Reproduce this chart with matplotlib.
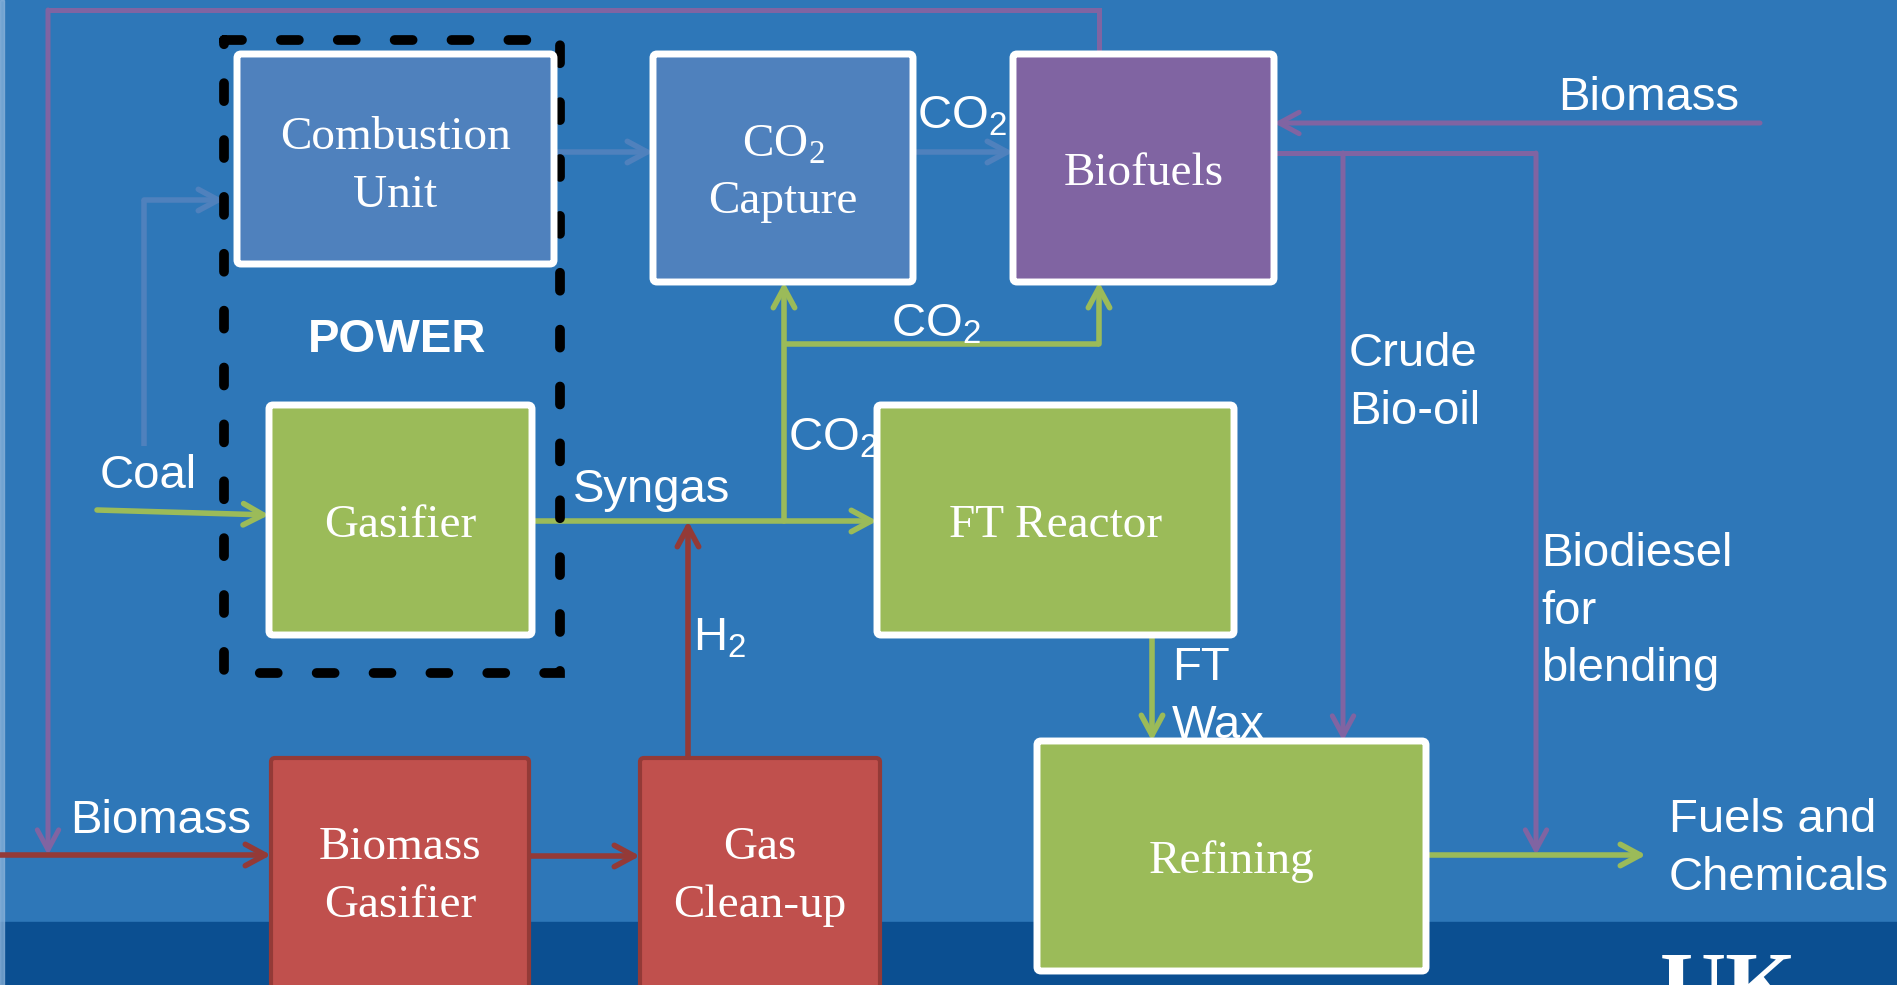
"""Coal/biomass to fuels flow diagram (boxes + arrows on a blue slide)."""
import matplotlib.pyplot as plt
import matplotlib as mpl
from matplotlib.patches import FancyBboxPatch, Rectangle, FancyArrowPatch

mpl.rcParams.update({"font.size": 34})

BG = "#2E77B8"
BAND = "#0B4F91"
BLUE = "#4F81BD"
PURPLE = "#8064A2"
GREEN = "#9BBB59"
RED = "#C0504D"
RED_LINE = "#943A37"
SERIF = "Liberation Serif"
SANS = "Liberation Sans"

# process units
box_names = ["Combustion\nUnit", "CO2\nCapture", "Biofuels", "Gasifier",
             "FT Reactor", "Refining", "Biomass\nGasifier", "Gas\nClean-up"]
box_fill = [BLUE, BLUE, PURPLE, GREEN, GREEN, GREEN, RED, RED]
box_edge = ["white"] * 6 + [RED_LINE] * 2
# x0, y0, x1, y1 in image pixels (y down)
box_xy = [(237, 54, 554, 264), (653, 54, 913, 282), (1013, 54, 1274, 282),
          (269, 405, 532, 635), (877, 405, 1234, 635), (1037, 741, 1426, 971),
          (271, 758, 529, 992), (640, 758, 880, 992)]
box_baselines = [(149, 207), (157, 213), (185,), (537,), (537,), (873,),
                 (859, 917), (859, 917)]

# stream labels: text lines, left x, first baseline
stream_labels = [["Coal"], ["Biomass"], ["Syngas"], ["CO$_\\mathregular{2}$"],
                 ["H$_\\mathregular{2}$"], ["CO$_\\mathregular{2}$"],
                 ["CO$_\\mathregular{2}$"], ["FT", "Wax"], ["Crude", "Bio-oil"],
                 ["Biodiesel", "for", "blending"], ["Fuels and", "Chemicals"],
                 ["Biomass"]]
stream_xy = [(100, 488), (70, 833), (573, 502), (788, 451), (693, 650),
             (917, 128), (891, 337), (1172, 680), (1349, 366), (1541, 566),
             (1669, 832), (1558, 110)]

# connections: polyline points, colour (arrow on last segment)
flows = [
    ([(1099, 54), (1099, 10), (48, 10), (48, 855)], PURPLE),
    ([(1760, 123), (1274, 123)], PURPLE),
    ([(1274, 153), (1536, 153), (1536, 855)], PURPLE),
    ([(1343, 153), (1343, 741)], PURPLE),
    ([(0, 855), (271, 855)], RED_LINE),
    ([(529, 856), (640, 856)], RED_LINE),
    ([(688, 758), (688, 521)], RED_LINE),
    ([(97, 510), (269, 515)], GREEN),
    ([(532, 521), (877, 521)], GREEN),
    ([(784, 521), (784, 282)], GREEN),
    ([(784, 344), (1099, 344), (1099, 282)], GREEN),
    ([(1152, 635), (1152, 741)], GREEN),
    ([(1426, 855), (1646, 855)], GREEN),
    ([(144, 446), (144, 200), (224, 200)], BLUE),
    ([(554, 152), (653, 152)], BLUE),
    ([(913, 152), (1013, 152)], BLUE),
]

W, H = 1897, 985
fig = plt.figure(figsize=(W / 100, H / 100), dpi=100, facecolor=BG)
ax = fig.add_axes([0, 0, 1, 1])
ax.set_xlim(0, W)
ax.set_ylim(H, 0)
ax.axis("off")
ax.set_facecolor(BG)

# darker footer band and light left edge
ax.add_patch(Rectangle((0, 922), W, H - 922, color=BAND, zorder=0))
ax.add_patch(Rectangle((0, 0), 4, H, color="#8FB6DC", alpha=0.7, zorder=0))

# arrows / lines
for pts, col in flows:
    xs, ys = zip(*pts)
    lw = 3.6 if col == PURPLE else 4.0
    if len(pts) > 2:
        ax.plot(xs[:-1], ys[:-1], color=col, lw=lw, solid_capstyle="butt",
                solid_joinstyle="miter", zorder=3)
    ax.add_patch(FancyArrowPatch(pts[-2], pts[-1],
                                 arrowstyle="->,head_length=0.65,head_width=0.35",
                                 mutation_scale=22, color=col, lw=lw,
                                 shrinkA=0, shrinkB=0, capstyle="round",
                                 zorder=3))

# dashed POWER boundary
dash = Rectangle((224, 40), 560 - 224, 673 - 40, fill=False, ec="black",
                 lw=7, ls=(0, (1.85, 4.0)), zorder=4)
dash.set_capstyle("round")
ax.add_patch(dash)
ax.text(397, 352, "POWER", ha="center", va="baseline", color="white",
        family=SANS, weight="bold", fontsize=34, zorder=6)

# boxes
for name, fc, ec, (x0, y0, x1, y1), bls in zip(box_names, box_fill, box_edge,
                                               box_xy, box_baselines):
    lw = 5 if ec == "white" else 3
    ax.add_patch(FancyBboxPatch((x0, y0), x1 - x0, y1 - y0,
                                boxstyle="round,pad=0,rounding_size=4",
                                fc=fc, ec=ec, lw=lw, zorder=5))
    for line, yb in zip(name.split("\n"), bls):
        if line == "CO2":
            line = "CO$_\\mathregular{2}$"
        ax.text((x0 + x1) / 2, yb, line, ha="center", va="baseline",
                color="white", family=SERIF, fontsize=34, zorder=6)

# stream labels
for lines, (x, y) in zip(stream_labels, stream_xy):
    for i, line in enumerate(lines):
        ax.text(x, y + i * 57.5, line, ha="left", va="baseline", color="white",
                family=SANS, fontsize=34, zorder=6)

# partial university logo in the corner (cut by the slide edge, as in the source)
ax.text(1660, 1015, "UK", ha="left", va="baseline", color="white",
        family=SERIF, weight="bold", fontsize=66, zorder=6)

fig.savefig("out.png", dpi=100, facecolor=BG)
plt.close(fig)
